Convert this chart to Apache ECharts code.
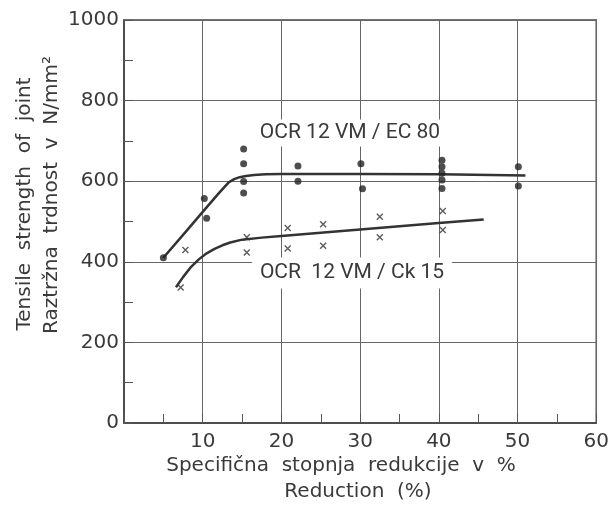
<!DOCTYPE html>
<html>
<head>
<meta charset="utf-8">
<script src="https://cdn.jsdelivr.net/npm/echarts@6/dist/echarts.min.js"></script>
<style>
html,body{margin:0;padding:0;background:#fff;}
#chart{width:612px;height:507px;}
</style>
</head>
<body>
<div id="chart"></div>
<script>
// Measured points: OCR 12 VM / EC 80 (dots)
var ec80X = [5, 10.2, 10.5, 15.2, 15.2, 15.2, 15.2, 22.1, 22.1, 30.1, 30.3, 40.4, 40.4, 40.4, 40.4, 40.4, 50.1, 50.1];
var ec80Y = [410, 557, 508, 680, 643, 599, 571, 638, 600, 643, 581, 652, 636, 620, 603, 582, 636, 588];
// Measured points: OCR 12 VM / Ck 15 (crosses)
var ck15X = [7.8, 7.2, 15.6, 15.6, 20.8, 20.8, 25.3, 25.3, 32.5, 32.5, 40.5, 40.5];
var ck15Y = [429, 336, 461, 423, 484, 433, 493, 440, 512, 461, 526, 479];
// Fitted curves
var ec80CurveX = [5, 8, 10, 12, 13.3, 14, 14.7, 15.5, 16.5, 18, 20, 30, 40, 51];
var ec80CurveY = [410, 478, 524, 569, 597, 605, 610, 613, 615.5, 617, 618, 618, 617, 614];
var ck15CurveX = [6.6, 7.5, 8.5, 9.5, 10.5, 11.5, 12.5, 13.5, 15, 17.5, 20, 30, 40, 45.7];
var ck15CurveY = [337, 362, 387, 406, 421, 432, 441, 448, 455, 460, 464, 480, 496, 505];
// Axis ticks
var xTicks = [0, 10, 20, 30, 40, 50, 60];
var yTicks = [0, 200, 400, 600, 800, 1000];
// Texts
var label1 = 'OCR 12 VM / EC 80';
var label2 = 'OCR  12 VM / Ck 15';
var yTitle1 = 'Tensile  strength  of  joint';
var yTitle2 = 'Raztržna  trdnost  v  N/mm²';
var xTitle1 = 'Specifična  stopnja  redukcije  v  %';
var xTitle2 = 'Reduction  (%)';

function zip(a, b) { return a.map(function (v, i) { return [v, b[i]]; }); }

var ink = '#333';
var txt = '#3a3a3a';
var chart = echarts.init(document.getElementById('chart'), null, {renderer: 'canvas'});
var axisFont = {fontFamily: 'DejaVu Sans', fontSize: 20, color: txt, formatter: function (v) { return String(v); }};

chart.setOption({
  backgroundColor: '#fff',
  animation: false,
  grid: {left: 124, right: 13, top: 20, bottom: 84, show: true, borderColor: '#444', borderWidth: 1.5, backgroundColor: 'transparent'},
  xAxis: {
    type: 'value', min: xTicks[0], max: xTicks[xTicks.length - 1], interval: 10,
    axisLine: {show: true, lineStyle: {color: '#444', width: 1.5}},
    axisTick: {show: true, inside: true, length: 9, lineStyle: {color: '#555', width: 1}},
    minorTick: {show: true, splitNumber: 2, length: 9, lineStyle: {color: '#555', width: 1}},
    splitLine: {show: true, lineStyle: {color: '#666', width: 1}},
    axisLabel: Object.assign({showMinLabel: false, showMaxLabel: true, margin: 9}, axisFont)
  },
  yAxis: {
    type: 'value', min: yTicks[0], max: yTicks[yTicks.length - 1], interval: 200,
    axisLine: {show: true, lineStyle: {color: '#444', width: 1.5}},
    axisTick: {show: true, inside: true, length: 9, lineStyle: {color: '#555', width: 1}},
    minorTick: {show: true, splitNumber: 2, length: 9, lineStyle: {color: '#555', width: 1}},
    splitLine: {show: true, lineStyle: {color: '#666', width: 1}},
    axisLabel: Object.assign({margin: 5}, axisFont)
  },
  graphic: [
    {type: 'text', x: 350, y: 133, z: 10,
     style: {text: label1, font: '21px Roboto', fill: txt, align: 'center', verticalAlign: 'middle',
             backgroundColor: '#fff', padding: [3, 4]}},
    {type: 'text', x: 352, y: 273, z: 10,
     style: {text: label2, font: '21px Roboto', fill: txt, align: 'center', verticalAlign: 'middle',
             backgroundColor: '#fff', padding: [5, 8]}},
    {type: 'text', x: 25, y: 204, rotation: Math.PI / 2,
     style: {text: yTitle1, font: '20px "DejaVu Sans"', fill: txt, align: 'center', verticalAlign: 'middle'}},
    {type: 'text', x: 52, y: 195, rotation: Math.PI / 2,
     style: {text: yTitle2, font: '20px "DejaVu Sans"', fill: txt, align: 'center', verticalAlign: 'middle'}},
    {type: 'text', x: 341, y: 466,
     style: {text: xTitle1, font: '20px "DejaVu Sans"', fill: txt, align: 'center', verticalAlign: 'middle'}},
    {type: 'text', x: 358, y: 492,
     style: {text: xTitle2, font: '20px "DejaVu Sans"', fill: txt, align: 'center', verticalAlign: 'middle'}}
  ],
  series: [
    {type: 'line', data: zip(ec80CurveX, ec80CurveY), smooth: false, showSymbol: false,
     lineStyle: {color: ink, width: 2.5, join: 'round'}, z: 3},
    {type: 'line', data: zip(ck15CurveX, ck15CurveY), smooth: false, showSymbol: false,
     lineStyle: {color: ink, width: 2.5, join: 'round'}, z: 3},
    {type: 'scatter', data: zip(ec80X, ec80Y), symbol: 'circle', symbolSize: 7,
     itemStyle: {color: '#222'}, z: 4},
    {type: 'scatter', data: zip(ck15X, ck15Y), symbol: 'path://M0,0L10,10M10,0L0,10', symbolSize: 6,
     itemStyle: {color: 'none', borderColor: '#333', borderWidth: 1.4}, z: 4}
  ]
});
</script>
</body>
</html>
